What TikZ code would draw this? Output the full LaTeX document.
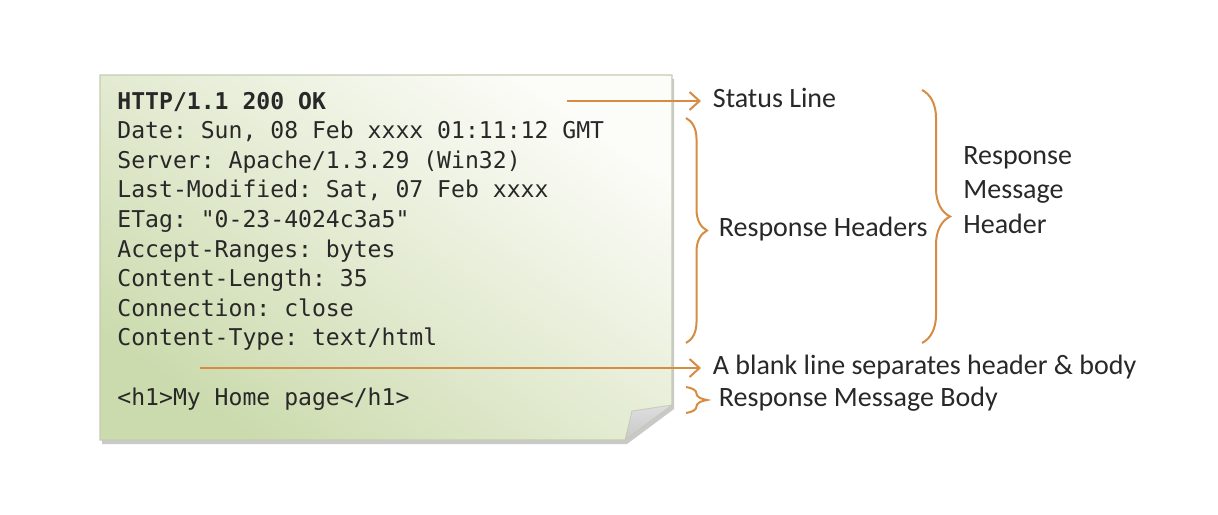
\documentclass[tikz,border=0pt]{standalone}
\usepackage{fontspec}
\setsansfont{Carlito}
\setmonofont{DejaVu Sans Mono}
\usetikzlibrary{arrows.meta,decorations.pathreplacing,shadows}
\definecolor{noteTop}{RGB}{252,252,248}
\definecolor{noteBot}{RGB}{204,219,174}
\definecolor{noteEdge}{RGB}{196,204,178}
\definecolor{foldGray}{RGB}{200,200,202}
\definecolor{markOrange}{RGB}{214,140,66}
\definecolor{inkGray}{RGB}{40,40,40}
\tikzset{
  codeline/.style={anchor=base west, inner sep=0pt, text=inkGray,
    font=\ttfamily\fontsize{11.55}{14.8}\selectfont},
  tag/.style={anchor=west, inner xsep=5.75pt, inner ysep=0pt, text=inkGray,
    text height=0.75em, text depth=0.11em,
    font=\sffamily\fontsize{14}{17.25}\selectfont},
  pointer/.style={draw=markOrange, line width=1.1pt, -{Straight Barb[length=5pt,width=9pt,line width=1pt]}},
  curly/.style={draw=markOrange, line width=1pt, decorate,
    decoration={brace, amplitude=#1}}
}
\begin{document}
\begin{tikzpicture}[x=0.5pt, y=-0.5pt]
\useasboundingbox (0,0) rectangle (1218,514);
%%%% Note sheet:
\fill[white] (0,0) rectangle (1218,514);
\path[drop shadow={shadow xshift=1pt, shadow yshift=-2pt, opacity=0.35, fill=black!60},
  draw=noteEdge, line width=0.6pt, shading=axis, top color=noteTop, bottom color=noteBot,
  shading angle=-35]
  (100,75) -- (672,75) -- (672,405) -- (625,440) -- (100,440) -- cycle;
%%%% Folded corner
\shade[top color=foldGray!60, bottom color=foldGray, draw=noteEdge, line width=0.4pt]
  (672,405) -- (632,411) -- (625,440) -- cycle;
%%%% Message lines
\node[codeline, font=\ttfamily\bfseries\fontsize{11.55}{14.8}\selectfont] (l1) at (117,109) {HTTP/1.1 200 OK};
\node[codeline] (l2) at (117,138.6) {Date: Sun, 08 Feb xxxx 01:11:12 GMT};
\node[codeline] (l3) at (117,168.2) {Server: Apache/1.3.29 (Win32)};
\node[codeline] (l4) at (117,197.8) {Last-Modified: Sat, 07 Feb xxxx};
\node[codeline] (l5) at (117,227.4) {ETag: "0-23-4024c3a5"};
\node[codeline] (l6) at (117,257) {Accept-Ranges: bytes};
\node[codeline] (l7) at (117,286.6) {Content-Length: 35};
\node[codeline] (l8) at (117,316.2) {Connection: close};
\node[codeline] (l9) at (117,345.8) {Content-Type: text/html};
\node[codeline] (l10) at (117,405.5) {<h1>My Home page</h1>};
%%%% Labels
\node[tag] (status) at (701,101) {Status Line};
\node[tag] (blank) at (701,368) {A blank line separates header \& body};
\node[tag] (headers) at (707,230) {Response Headers};
\node[tag] (body) at (707,400) {Response Message Body};
\node[tag, align=left, inner xsep=6.5pt, text height=, text depth=] (msghead) at (950,190) {Response\\Message\\Header};
%%%% Arrows
\coordinate (statusfrom) at (567,101);
\coordinate (blankfrom) at (200,368);
\draw[pointer] (statusfrom) -- (status.west);
\draw[pointer] (blankfrom) -- (blank.west);
%%%% Braces
\coordinate (hdrtop) at (686,118);
\coordinate (hdrbot) at (686,343);
\coordinate (msgtop) at (922,90);
\coordinate (msgbot) at (922,343);
\coordinate (bodytop) at (686,387);
\coordinate (bodybot) at (686,413);
\draw[curly=10.5pt] (hdrtop) -- (hdrbot);
\draw[curly=14pt] (msgtop) -- (msgbot);
\draw[curly=10.5pt] (bodytop) -- (bodybot);
\end{tikzpicture}
\end{document}
